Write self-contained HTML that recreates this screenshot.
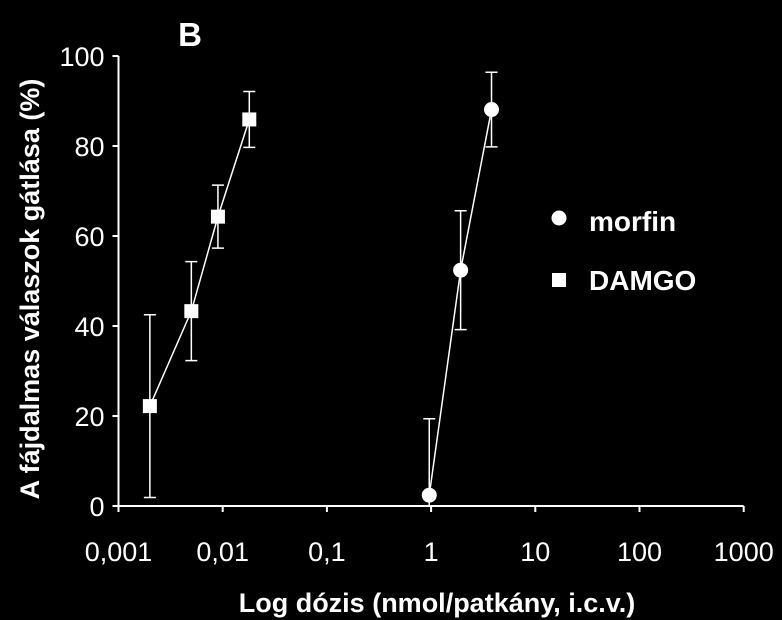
<!DOCTYPE html>
<html><head><meta charset="utf-8"><style>
html,body{margin:0;padding:0;background:#000;}
svg{display:block;font-family:"Liberation Sans",Arial,sans-serif;}
</style></head><body>
<svg id="chart" width="782" height="620" viewBox="0 0 782 620">
<g id="axes"></g>
<g id="marks"></g>
<text x="190" y="46" font-size="33" font-weight="bold" fill="#fff" text-anchor="middle">B</text>
<text transform="translate(39,289) rotate(-90)" font-size="27" font-weight="bold" fill="#fff" text-anchor="middle">A fájdalmas válaszok gátlása (%)</text>
<text x="437" y="612" font-size="27" font-weight="bold" fill="#fff" text-anchor="middle">Log dózis (nmol/patkány, i.c.v.)</text>
<g>
<circle cx="559" cy="218" r="7.5" fill="#fff"/>
<text x="589" y="231" font-size="28" font-weight="bold" fill="#fff">morfin</text>
<rect x="552" y="273" width="14" height="14" fill="#fff"/>
<text x="589" y="290" font-size="28" font-weight="bold" fill="#fff">DAMGO</text>
</g>
</svg>
<script>
const xTicks = [0.001, 0.01, 0.1, 1, 10, 100, 1000];
const xTickLabels = ["0,001", "0,01", "0,1", "1", "10", "100", "1000"];
const yTicks = [0, 20, 40, 60, 80, 100];
const damgoDose = [0.002, 0.005, 0.009, 0.018];
const damgoValue = [22.2, 43.3, 64.3, 85.9];
const damgoErr = [20.3, 11, 7, 6.2];
const morfinDose = [0.96, 1.92, 3.8];
const morfinValue = [2.4, 52.4, 88.1];
const morfinErr = [17, 13.2, 8.3];

const NS = "http://www.w3.org/2000/svg";
const x0 = 118.5, decade = 104.2, yBase = 506, yScale = 4.5;
function sx(v){ return x0 + (Math.log10(v) - Math.log10(0.001)) * decade; }
function sy(v){ return yBase - v * yScale; }
function mk(tag, attrs, parent){
  const e = document.createElementNS(NS, tag);
  for (const k in attrs) e.setAttribute(k, attrs[k]);
  parent.appendChild(e);
  return e;
}
const axes = document.getElementById('axes');
const marks = document.getElementById('marks');
const W = "#fff";

let yl = mk('line', {x1:x0, y1:sy(100), x2:x0, y2:yBase, stroke:W, 'stroke-width':2}, axes);


let xl = mk('line', {x1:x0-6, y1:yBase, x2:sx(1000), y2:yBase, stroke:W, 'stroke-width':2}, axes);



yTicks.forEach(function(t){
  let tk = mk('line', {x1:x0-6, y1:sy(t), x2:x0, y2:sy(t), stroke:W, 'stroke-width':2}, axes);
  
  
  let tx = mk('text', {x:x0-14, y:sy(t)+10, fill:W, 'font-size':27, 'text-anchor':'end'}, axes);
  tx.textContent = String(t);
  
  
});
xTicks.forEach(function(t, i){
  let tk = mk('line', {x1:sx(t), y1:yBase, x2:sx(t), y2:yBase+6, stroke:W, 'stroke-width':2}, axes);
  
  
  let tx = mk('text', {x:sx(t), y:561, fill:W, 'font-size':27, 'text-anchor':'middle'}, axes);
  tx.textContent = xTickLabels[i];
  
  
});

function series(doses, vals, errs, shape, name){
  const g = mk('g', {}, marks);
  
  
  const pts = doses.map(function(d, i){ return sx(d) + ',' + sy(vals[i]); }).join(' ');
  const pl = mk('polyline', {points:pts, fill:'none', stroke:W, 'stroke-width':1.5}, g);
  
  
  doses.forEach(function(d, i){
    const cx = sx(d), top = sy(Math.min(100, vals[i] + errs[i])), bot = sy(Math.max(0, vals[i] - errs[i]));
    const eb = mk('path', {d:'M'+cx+','+top+'V'+bot+'M'+(cx-6)+','+top+'H'+(cx+6)+'M'+(cx-6)+','+bot+'H'+(cx+6), stroke:W, 'stroke-width':1.5, fill:'none'}, g);
    
    
  });
  doses.forEach(function(d, i){
    let m;
    if (shape === 'square') m = mk('rect', {x:sx(d)-7, y:sy(vals[i])-7, width:14, height:14, fill:W}, g);
    else m = mk('circle', {cx:sx(d), cy:sy(vals[i]), r:7.5, fill:W}, g);
    
    
  });
}
series(damgoDose, damgoValue, damgoErr, 'square', 'damgo');
series(morfinDose, morfinValue, morfinErr, 'circle', 'morfin');
</script>
</body></html>
